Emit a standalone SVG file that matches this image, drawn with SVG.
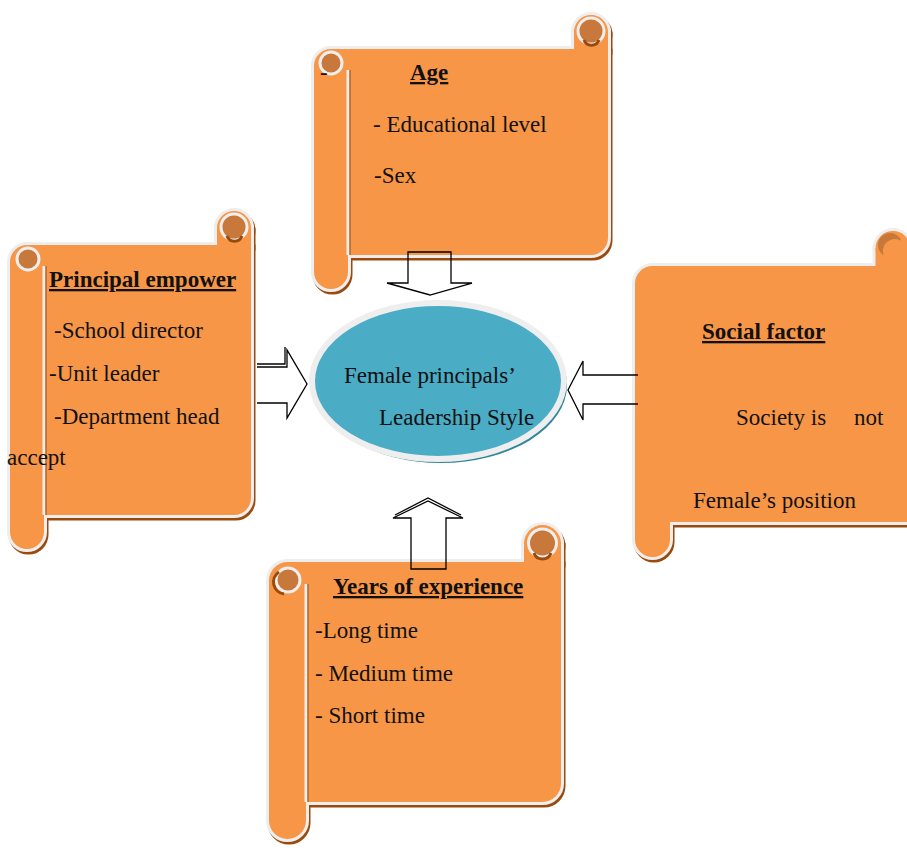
<svg xmlns="http://www.w3.org/2000/svg" width="907" height="848" viewBox="0 0 907 848">
<style>
.t{font-family:"Liberation Serif","Times New Roman",serif;font-size:23px;fill:#111}
.hd{font-weight:bold;text-decoration:underline}
.dk{fill:#C8783A;stroke:#EEEEEE;stroke-width:3}
.sep{stroke:#EEEEEE;stroke-width:3}
.sepd{stroke:#9A4A0C;stroke-width:1}
.arr{fill:none;stroke:#000;stroke-width:1.3;stroke-linejoin:miter}
</style>
<defs>
<g id="shpAge">
<path d="M331 49 H608 V238 A17 17 0 0 1 591 255 H331 Z"/>
<circle cx="591" cy="32" r="17"/>
<rect x="574" y="32" width="34" height="17"/>
<rect x="314" y="49" width="34" height="240" rx="17"/>
</g>
<g id="shpPri">
<path d="M27 245 H251 V498 A17 17 0 0 1 234 515 H27 Z"/>
<circle cx="234" cy="228" r="17"/>
<rect x="217" y="228" width="34" height="17"/>
<rect x="10" y="245" width="34" height="304" rx="17"/>
</g>
<g id="shpSoc">
<path d="M652 266 H915 V522 H652 Z"/>
<circle cx="893" cy="248.5" r="17.5"/>
<rect x="875.5" y="248.5" width="40" height="18"/>
<rect x="635" y="266" width="35" height="291" rx="17.5"/>
</g>
<g id="shpYrs">
<path d="M287.5 562 H561 V783.5 A18.5 18.5 0 0 1 542.5 802 H287.5 Z"/>
<circle cx="542.5" cy="543.5" r="18.5"/>
<rect x="524" y="543.5" width="37" height="18.5"/>
<rect x="269" y="562" width="37" height="277" rx="18.5"/>
</g>
</defs>

<g id="node-age">
<use href="#shpAge" transform="translate(1.5,2.5)" fill="#9A4A0C" stroke="#9A4A0C" stroke-width="6"/>
<use href="#shpAge" fill="#EEEEEE" stroke="#EEEEEE" stroke-width="6"/>
<use href="#shpAge" fill="#F79646"/>
<line class="sep" x1="348" y1="70" x2="348" y2="255"/>
<line class="sepd" x1="350" y1="70" x2="350" y2="255"/>
<circle class="dk" cx="591" cy="31" r="13"/>
<path d="M584 40 A8 8 0 0 0 599 40" fill="none" stroke="#9A4A0C" stroke-width="3"/>
<circle class="dk" cx="331" cy="63" r="11"/>
<text class="t" x="320" y="80">-</text>
<text class="t hd" x="410" y="80">Age</text>
<text class="t" x="373" y="132">- Educational level</text>
<text class="t" x="374" y="183">-Sex</text>
</g>

<g id="node-principal">
<use href="#shpPri" transform="translate(1.5,2.5)" fill="#9A4A0C" stroke="#9A4A0C" stroke-width="6"/>
<use href="#shpPri" fill="#EEEEEE" stroke="#EEEEEE" stroke-width="6"/>
<use href="#shpPri" fill="#F79646"/>
<line class="sep" x1="44" y1="266" x2="44" y2="515"/>
<line class="sepd" x1="46" y1="266" x2="46" y2="515"/>
<circle class="dk" cx="234" cy="227" r="13"/>
<path d="M227 236 A8 8 0 0 0 242 236" fill="none" stroke="#9A4A0C" stroke-width="3"/>
<circle class="dk" cx="28" cy="259" r="11"/>
<text class="t hd" x="49" y="287">Principal empower</text>
<text class="t" x="54" y="338">-School director</text>
<text class="t" x="49" y="381">-Unit leader</text>
<text class="t" x="54" y="424">-Department head</text>
<text class="t" x="7" y="465">accept</text>
</g>

<g id="node-social">
<use href="#shpSoc" transform="translate(1.5,2.5)" fill="#9A4A0C" stroke="#9A4A0C" stroke-width="6"/>
<use href="#shpSoc" fill="#EEEEEE" stroke="#EEEEEE" stroke-width="6"/>
<use href="#shpSoc" fill="#F79646"/>
<circle cx="890" cy="245" r="12" fill="#C8783A"/>
<circle cx="895" cy="251" r="12" fill="#F79646"/>
<text class="t hd" x="702" y="339">Social factor</text>
<text class="t" x="736" y="425">Society is</text>
<text class="t" x="854" y="425">not</text>
<text class="t" x="693" y="508">Female’s position</text>
</g>

<g id="node-years">
<use href="#shpYrs" transform="translate(1.5,2.5)" fill="#9A4A0C" stroke="#9A4A0C" stroke-width="6"/>
<use href="#shpYrs" fill="#EEEEEE" stroke="#EEEEEE" stroke-width="6"/>
<use href="#shpYrs" fill="#F79646"/>
<line class="sep" x1="306" y1="584" x2="306" y2="802"/>
<line class="sepd" x1="308" y1="584" x2="308" y2="802"/>
<circle class="dk" cx="542.5" cy="543" r="14"/>
<path d="M534 553 A9 9 0 0 0 551 553" fill="none" stroke="#9A4A0C" stroke-width="3"/>
<circle class="dk" cx="288" cy="580" r="12"/>
<path d="M279 572 A12 12 0 0 0 284 594" fill="none" stroke="#9A4A0C" stroke-width="3"/>
<text class="t hd" x="333" y="594">Years of experience</text>
<text class="t" x="315" y="638">-Long time</text>
<text class="t" x="315" y="681">- Medium time</text>
<text class="t" x="315" y="723">- Short time</text>
</g>

<g id="connectors">
<path class="arr" d="M408 252 H451 V283 H472 L430 295 L387 283 H408 Z"/>
<path class="arr" d="M257 367 H287 V350 L307 384 L287 418 V403 H257"/>
<path class="arr" d="M257 364 H285 V347"/>
<path class="arr" d="M638 375 H583 V361 L568 390 L583 420 V404 H638"/>
<path class="arr" d="M411 569 V518 H393 L428 501 L463 518 H446 V569 Z"/>
<path class="arr" d="M395 515 L428 498 L461 515"/>
</g>

<g id="node-center">
<ellipse cx="441" cy="385" rx="126" ry="78" fill="#31859C"/>
<ellipse cx="438" cy="381" rx="126" ry="78" fill="#4BACC6" stroke="#EEEEEE" stroke-width="6"/>
<text class="t" x="344" y="383">Female principals’</text>
<text class="t" x="379" y="425">Leadership Style</text>
</g>
</svg>
